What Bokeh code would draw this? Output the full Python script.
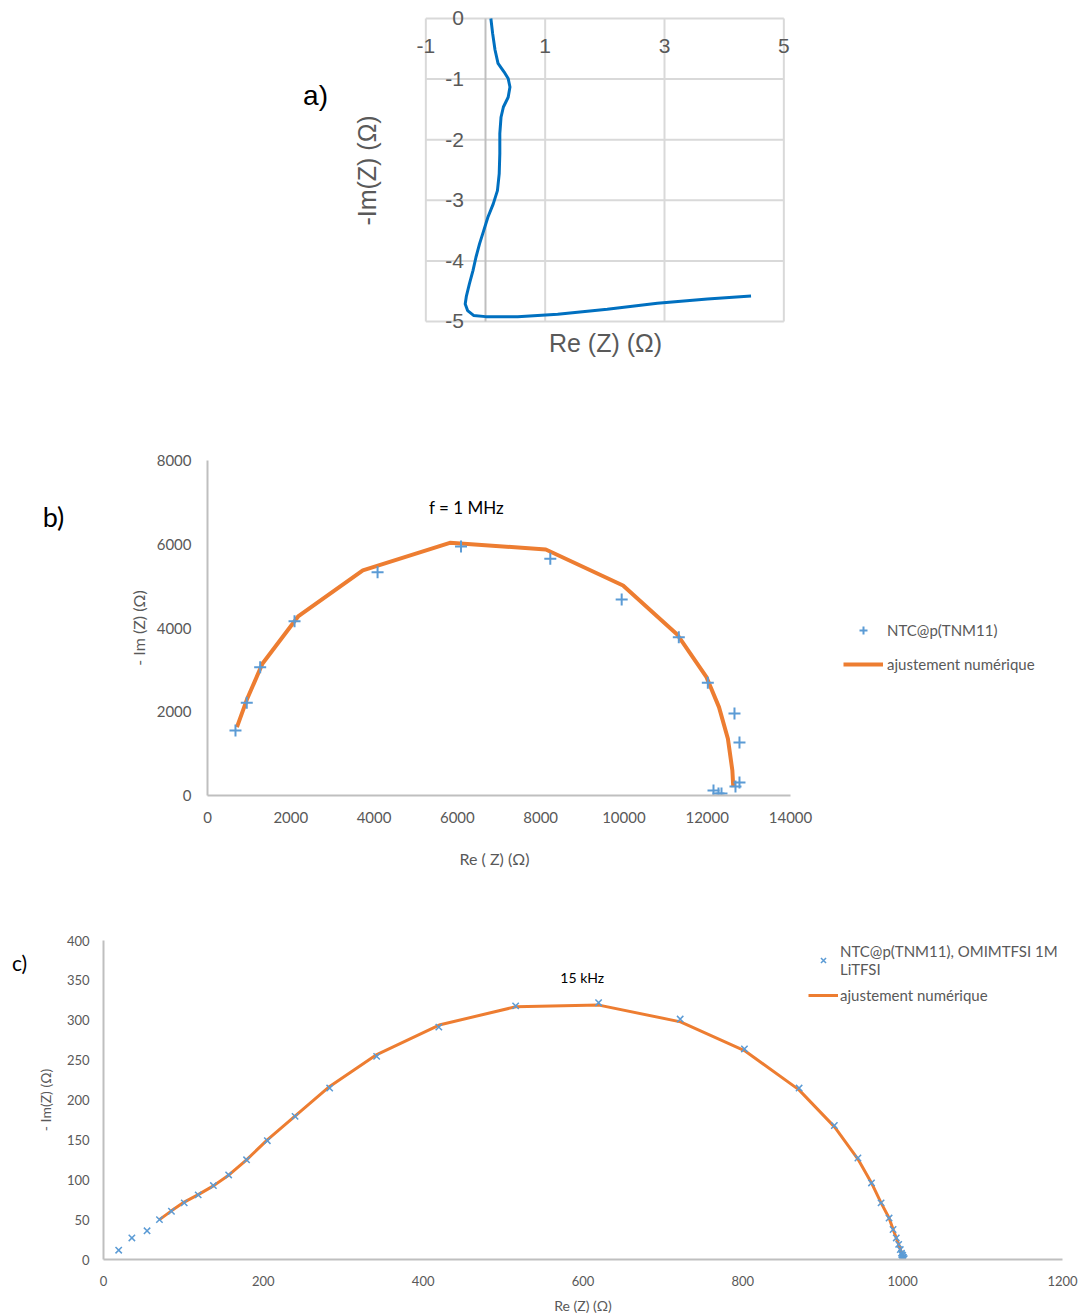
import numpy as np
from bokeh.plotting import figure
from bokeh.models import Range1d, FixedTicker, Label, Legend, LegendItem
from bokeh.embed import file_html
from bokeh.resources import INLINE
from bokeh.core.properties import value

# ---------------- data ----------------
# panel a : Nyquist curve
a_re = [0.09, 0.12, 0.16, 0.21, 0.31, 0.38, 0.41, 0.38, 0.30, 0.26, 0.24, 0.24, 0.23, 0.20,
        0.13, 0.04, -0.03, -0.10, -0.16, -0.21, -0.27, -0.32, -0.34, -0.30, -0.20, 0.00,
        0.54, 1.21, 2.04, 2.88, 3.72, 4.45]
a_im = [0.0, -0.25, -0.52, -0.74, -0.88, -0.99, -1.13, -1.30, -1.46, -1.63, -1.90, -2.23,
        -2.56, -2.84, -3.06, -3.28, -3.50, -3.72, -3.94, -4.16, -4.38, -4.58, -4.71, -4.82,
        -4.90, -4.92, -4.92, -4.88, -4.80, -4.70, -4.63, -4.58]
a_xticks = [-1, 1, 3, 5]
a_yticks = [0, -1, -2, -3, -4, -5]

# panel b : NTC@p(TNM11) measured points and fit
b_re = [672, 943, 1265, 2090, 4084, 6088, 8232, 9946, 11318, 12015, 12655, 12775, 12775,
        12679, 12151, 12271, 12343]
b_im = [1552, 2213, 3065, 4164, 5334, 5947, 5653, 4682, 3782, 2691, 1958, 1266, 310,
        215, 119, 48, 48]
b_fit_re = [707, 943, 1318, 2176, 3730, 5820, 8124, 9979, 11286, 11983, 12283, 12497, 12604, 12626]
b_fit_im = [1632, 2285, 3145, 4275, 5374, 6035, 5876, 5016, 3838, 2826, 2110, 1354, 597, 199]
b_xticks = [0, 2000, 4000, 6000, 8000, 10000, 12000, 14000]
b_yticks = [0, 2000, 4000, 6000, 8000]

# panel c : NTC@p(TNM11), OMIMTFSI 1M LiTFSI
c_re = [19, 35.5, 54.5, 70, 85, 101, 118.5, 137.5, 156.6, 179, 205, 239.7, 283, 341.8,
        419.6, 515.7, 619.5, 721.6, 802, 870.4, 914.5, 944, 961, 973, 983, 988, 992, 995,
        997, 998.5, 1000, 1001, 1002, 1000, 1001, 999]
c_im = [11.7, 27, 36, 50, 60.5, 71, 81, 92.7, 106, 125, 149, 179.5, 215, 254.7, 291.4,
        318, 322, 301.5, 264, 215, 168, 127.3, 96, 71, 52, 37.6, 27, 19, 12.5, 8, 5, 2.5,
        1, 3, 0.5, 6]
c_fit_re = [70, 85, 101, 118, 137, 157, 179, 205, 240, 283, 342, 420, 516, 620, 722, 802,
            870, 915, 944, 961, 973, 983, 988, 992, 995, 998, 1000]
c_fit_im = [50, 61, 72, 81, 92, 106, 125, 150, 180, 217, 257, 294, 317, 319, 298, 262, 213,
            166, 126, 96, 71, 52, 38, 27, 19, 10, 3]
c_xticks = [0, 200, 400, 600, 800, 1000, 1200]
c_yticks = [0, 50, 100, 150, 200, 250, 300, 350, 400]

GRAY = "#595959"
BLUE = "#5b9bd5"
ORANGE = "#ed7d31"
W = 1083
AF = value("Liberation Sans")

# ---------------- panel a ----------------
pa = figure(width=W, height=392, x_range=Range1d(-3.268, 5.363), y_range=Range1d(-5.611, 0.264),
            output_backend="svg", toolbar_location=None,
            x_axis_location=None, y_axis_location=None,
            min_border_left=290, min_border_right=278, min_border_top=2, min_border_bottom=34)
pa.outline_line_color = None
pa.grid.visible = False

xt = list(a_xticks)
pa.segment(x0=xt, y0=[min(a_yticks)] * len(xt), x1=xt, y1=[max(a_yticks)] * len(xt),
           line_color="#d9d9d9", line_width=2)
pa.segment(x0=[min(a_xticks)] * len(a_yticks), y0=a_yticks, x1=[max(a_xticks)] * len(a_yticks),
           y1=a_yticks, line_color="#d9d9d9", line_width=2)
pa.segment(x0=[0], y0=[min(a_yticks)], x1=[0], y1=[max(a_yticks)], line_color="#bfbfbf", line_width=2)
pa.text(x=a_xticks, y=[-0.46] * len(a_xticks), text=[str(t) for t in a_xticks],
        text_align="center", text_baseline="middle", text_font=AF,
        text_font_size="21px", text_color=GRAY)
pa.text(x=[-0.36] * len(a_yticks), y=a_yticks, text=[str(t) for t in a_yticks],
        text_align="right", text_baseline="middle", text_font=AF,
        text_font_size="21px", text_color=GRAY)
pa.line(a_re, a_im, line_color="#0070c0", line_width=3, line_join="round")
pa.text(x=[2.011], y=[-5.347], text=["Re (Z) (Ω)"], text_align="center", text_baseline="middle",
        text_font=AF, text_font_size="25px", text_color=GRAY)
pa.text(x=[-1.978], y=[-2.508], text=["-Im(Z) (Ω)"], angle=np.pi / 2, text_align="center",
        text_baseline="middle", text_font=AF, text_font_size="25px", text_color=GRAY)
pa.text(x=[-2.849], y=[-1.271], text=["a)"], text_align="center", text_baseline="middle",
        text_font=AF, text_font_size="28px", text_color="black")


def style_axes(p, tick_size, title_size):
    for ax in (p.xaxis[0], p.yaxis[0]):
        ax.axis_line_color = "#bfbfbf"
        ax.axis_line_width = 2
        ax.major_tick_line_color = None
        ax.minor_tick_line_color = None
        ax.major_tick_out = 0
        ax.major_label_text_font = "Lato"
        ax.major_label_text_font_size = tick_size
        ax.major_label_text_color = GRAY
        ax.axis_label_text_font = "Lato"
        ax.axis_label_text_font_size = title_size
        ax.axis_label_text_font_style = "normal"
        ax.axis_label_text_color = GRAY
    p.grid.visible = False
    p.outline_line_color = None


# ---------------- panel b ----------------
pb = figure(width=W, height=476, x_range=Range1d(0, 20724), y_range=Range1d(0, 8000),
            output_backend="svg", toolbar_location=None,
            min_border_left=207, min_border_right=13, min_border_top=68, min_border_bottom=73)
style_axes(pb, "15px", "16px")
pb.xaxis.ticker = FixedTicker(ticks=b_xticks)
pb.yaxis.ticker = FixedTicker(ticks=b_yticks)
pb.xaxis.bounds = (min(b_xticks), max(b_xticks))
pb.yaxis.axis_label = "- Im (Z) (Ω)"
pb.xaxis.major_label_standoff = 16
pb.yaxis.major_label_standoff = 16
pb.yaxis.axis_label_standoff = 6
rb_fit = pb.line(b_fit_re, b_fit_im, line_color=ORANGE, line_width=4, line_join="round")
rb_pts = pb.scatter(b_re, b_im, marker="cross", size=12, line_color=BLUE, line_width=2)
pb.text(x=[6219], y=[6878], text=["f = 1 MHz"], text_align="center", text_baseline="middle",
        text_font=value("Lato"), text_font_size="17px", text_color="black")
leg_b = Legend(items=[LegendItem(label="NTC@p(TNM11)", renderers=[rb_pts]),
                      LegendItem(label="ajustement numérique", renderers=[rb_fit])],
               location=(636, 121), glyph_width=40, glyph_height=20, label_height=20,
               label_standoff=4, spacing=14, padding=0, margin=0,
               border_line_color=None, background_fill_alpha=0,
               label_text_font="Lato", label_text_font_size="15px", label_text_color=GRAY)
pb.add_layout(leg_b)
# x-axis title of panel b, centred under the 0..14000 axis line
pb.add_layout(Label(x=6892, y=-1504, text="Re ( Z) (Ω)", text_font="Lato", text_font_size="16px",
                    text_color=GRAY, text_align="center", text_baseline="middle"), "below")
pb.add_layout(Label(x=-3698, y=6663, text="b)", text_font="Lato", text_font_size="27px",
                    text_color="black", text_align="center", text_baseline="middle"), "left")

# ---------------- panel c ----------------
pc = figure(width=W, height=448, x_range=Range1d(0, 1200), y_range=Range1d(0, 400),
            output_backend="svg", toolbar_location=None,
            min_border_left=103, min_border_right=21, min_border_top=72, min_border_bottom=56)
style_axes(pc, "13px", "14px")
pc.xaxis.ticker = FixedTicker(ticks=c_xticks)
pc.yaxis.ticker = FixedTicker(ticks=c_yticks)
pc.xaxis.axis_label = "Re (Z) (Ω)"
pc.yaxis.axis_label = "- Im(Z) (Ω)"
pc.xaxis.major_label_standoff = 16
pc.yaxis.major_label_standoff = 14
pc.xaxis.axis_label_standoff = 8
pc.yaxis.axis_label_standoff = 10
rc_fit = pc.line(c_fit_re, c_fit_im, line_color=ORANGE, line_width=3, line_join="round")
rc_pts = pc.scatter(c_re, c_im, marker="x", size=9, line_color=BLUE, line_width=1.5)
pc.text(x=[599], y=[354], text=["15 kHz"], text_align="center", text_baseline="middle",
        text_font=value("Lato"), text_font_size="14px", text_color="black")
leg_c = Legend(items=[LegendItem(label="NTC@p(TNM11), OMIMTFSI 1M\nLiTFSI", renderers=[rc_pts]),
                      LegendItem(label="ajustement numérique", renderers=[rc_fit])],
               location=(705, 255), glyph_width=30, glyph_height=18, label_height=18,
               label_standoff=2, spacing=8, padding=0, margin=0,
               border_line_color=None, background_fill_alpha=0,
               label_text_font="Lato", label_text_font_size="15px", label_text_color=GRAY)
pc.add_layout(leg_c)
pc.add_layout(Label(x=-105, y=372, text="c)", text_font="Lato", text_font_size="21px",
                    text_color="black", text_align="center", text_baseline="middle"), "left")

open("out.html", "w").write(file_html([pa, pb, pc], INLINE))
